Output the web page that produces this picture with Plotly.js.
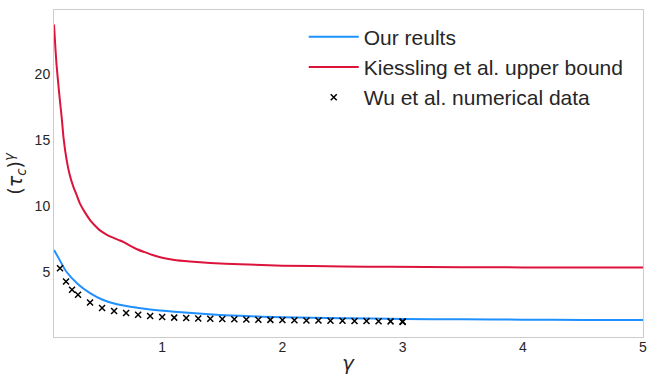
<!DOCTYPE html>
<html>
<head>
<meta charset="utf-8">
<script src="https://cdn.plot.ly/plotly-3.0.1.min.js"></script>
<style>html,body{margin:0;padding:0;background:#fff;}#chart{width:648px;height:375px;}</style>
</head>
<body>
<div id="chart"></div>
<script>
// Our results (blue curve)
const oursX = [0.1, 0.15, 0.2, 0.3, 0.4, 0.5, 0.6, 0.75, 0.9, 1.1, 1.45, 1.65, 2.0, 2.5, 3.0, 3.5, 4.0, 4.5, 5.0];
const oursY = [6.71, 5.90, 5.10, 4.12, 3.45, 2.97, 2.67, 2.41, 2.22, 2.05, 1.82, 1.74, 1.62, 1.56, 1.50, 1.47, 1.45, 1.43, 1.42];

// Kiessling et al. upper bound (red curve)
const kiessX = [0.1, 0.11, 0.12, 0.136, 0.15, 0.164, 0.18, 0.205, 0.23, 0.26, 0.29, 0.316, 0.36, 0.4, 0.44, 0.48, 0.52, 0.56, 0.6, 0.64, 0.68, 0.72, 0.79, 0.85, 0.92, 1.0, 1.09, 1.23, 1.4, 1.65, 2.0, 2.5, 2.9, 3.5, 4.0, 5.0];
const kiessY = [23.7, 22.2, 20.8, 19.2, 17.9, 16.7, 15.1, 13.5, 12.4, 11.5, 10.8, 10.2, 9.5, 8.96, 8.55, 8.2, 7.95, 7.75, 7.6, 7.45, 7.3, 7.08, 6.76, 6.55, 6.32, 6.12, 5.97, 5.83, 5.72, 5.62, 5.52, 5.46, 5.43, 5.40, 5.39, 5.38];

// Wu et al. numerical data (crosses)
const wuX = [0.15, 0.2, 0.25, 0.3, 0.4, 0.5, 0.6, 0.7, 0.8, 0.9, 1.0,
  1.1, 1.2, 1.3, 1.4, 1.5, 1.6, 1.7, 1.8, 1.9, 2.0,
  2.1, 2.2, 2.3, 2.4, 2.5, 2.6, 2.7, 2.8, 2.9, 3.0, 3.0];
const wuY = [5.33, 4.32, 3.70, 3.32, 2.74, 2.32, 2.10, 1.95, 1.82, 1.72, 1.65,
  1.60, 1.57, 1.54, 1.52, 1.50, 1.48, 1.46, 1.44, 1.43, 1.42,
  1.40, 1.39, 1.38, 1.37, 1.36, 1.35, 1.34, 1.33, 1.32, 1.31, 1.28];

const xTicks = [1, 2, 3, 4, 5];
const yTicks = [5, 10, 15, 20];

const traces = [
  {x: oursX, y: oursY, mode: 'lines', name: 'Our reults',
   line: {color: '#1E90FF', width: 2, shape: 'spline', smoothing: 0.6}},
  {x: kiessX, y: kiessY, mode: 'lines', name: 'Kiessling et al. upper bound',
   line: {color: '#DC143C', width: 2, shape: 'spline', smoothing: 0.5}},
  {x: wuX, y: wuY, mode: 'markers', name: 'Wu et al. numerical data',
   marker: {symbol: 'x-thin', size: 6, color: '#000', line: {width: 1.5, color: '#000'}}}
];

const axisFont = {family: 'Liberation Sans, Arial, sans-serif', size: 14, color: '#262626'};

const layout = {
  width: 648, height: 375,
  margin: {l: 54, r: 5, t: 10, b: 38},
  paper_bgcolor: '#fff', plot_bgcolor: '#fff',
  showlegend: true,
  legend: {x: 0.424, y: 0.98, xanchor: 'left', yanchor: 'top',
    font: {family: 'Liberation Sans, Arial, sans-serif', size: 21, color: '#262626'},
    bgcolor: 'rgba(0,0,0,0)', itemwidth: 50},
  xaxis: {range: [0.1, 5], tickvals: xTicks, ticktext: xTicks.map(String),
    showgrid: false, zeroline: false, showline: true, mirror: true,
    linecolor: '#cccccc', linewidth: 1, ticks: '', ticklabelstandoff: -3,
    tickfont: axisFont},
  yaxis: {range: [0.14, 24.8], tickvals: yTicks, ticktext: yTicks.map(String),
    showgrid: false, zeroline: false, showline: true, mirror: true,
    linecolor: '#cccccc', linewidth: 1, ticks: '',
    tickfont: axisFont},
  annotations: [
    {xref: 'paper', yref: 'paper', x: -0.066, y: 0.5, xanchor: 'center', yanchor: 'middle',
     textangle: -90, showarrow: false,
     text: '(<i>τ</i><sub><i>c</i></sub>)<sup><i>γ</i></sup>',
     font: {family: 'DejaVu Sans, sans-serif', size: 19, color: '#262626'}},
    {xref: 'paper', yref: 'paper', x: 0.5, y: -0.08, xanchor: 'center', yanchor: 'middle',
     showarrow: false, text: '<i>γ</i>',
     font: {family: 'DejaVu Sans, sans-serif', size: 20, color: '#262626'}}
  ]
};

Plotly.newPlot('chart', traces, layout, {displayModeBar: false, staticPlot: true});
</script>
</body>
</html>
